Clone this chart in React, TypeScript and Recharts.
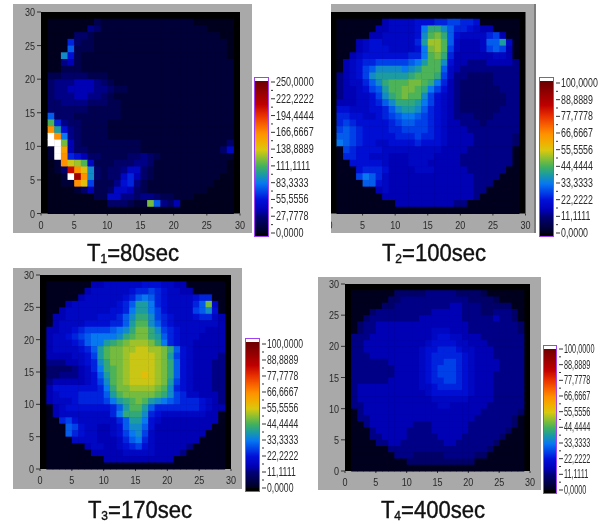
import React from "react";
import {
  Bar,
  BarChart,
  ReferenceArea,
  Scatter,
  ScatterChart,
  XAxis,
  YAxis,
} from "recharts";

// one string per row, top row (y 28-29) first, one char per cell (x 1-2 ... 28-29), grouped by 7
// char = base 36 level, 3% of full scale per step, z = over range (drawn white)
const t1Rows = [
  "0000000 2111111 1111111 1000000",
  "0000004 3111111 1111111 1110000",
  "0000332 1111111 1111111 1111100",
  "0008322 1111111 1111111 1111110",
  "000a222 1111111 1111111 1111110",
  "00c7211 1111111 1111111 1111110",
  "0045211 1111111 1111111 1111111",
  "0022211 1111111 1111111 1111111",
  "2233332 2211111 1111111 1111111",
  "3444555 4321111 1111111 1111111",
  "3445555 4432211 1111111 1111111",
  "3444554 4321111 1111111 1111111",
  "3344443 3322111 1111111 1111111",
  "3333332 2222111 1111111 1111111",
  "a333222 2222111 1111111 1111111",
  "f843322 2211111 1111111 1111111",
  "md74322 2211111 1111111 1111111",
  "zmb4322 2211111 1111111 1111111",
  "zzg5322 2222222 1111111 1111113",
  "1zl5332 2222222 1111111 1111136",
  "1zm8753 3222233 4321111 1111111",
  "01mihf6 2223334 4311111 1111110",
  "013smjc 3233466 3211111 1111110",
  "001zumc 3233685 3211111 1111100",
  "0011mj9 2224784 2111111 1111000",
  "0000135 2236653 2111111 1110000",
  "0000000 2266443 4432211 1000000",
  "0000000 0033321 1ga4350 0000000",
  "0000000 0000000 0000000 0000000",
];

const t2Rows = [
  "0000000 5666677 7889988 7000000",
  "0000005 566667b eeca887 6550000",
  "0000055 666667c fgea766 6689500",
  "0005677 666668d hhfa655 56aad60",
  "0005677 766667b ghf9655 569a950",
  "0056777 777788b fge8555 5556650",
  "0567889 9999abd ffc7554 4455554",
  "05679ac cccbcdf ffa6544 4444444",
  "45679cd ddddeff fe96443 3334444",
  "45668ac efffggf eb85433 3334444",
  "455679a dffggfe b975433 3333444",
  "4556679 cefgffc 9765433 3333344",
  "5556678 aceeedb 9765433 3333344",
  "7766677 8acddca 8765433 3333444",
  "8877667 89abba9 8765444 3334444",
  "8987777 789aa99 8765544 4344444",
  "9a98777 7889999 8765554 4444444",
  "aa98777 7788898 8765555 4444443",
  "ba98776 6777787 7765555 4444443",
  "0987777 6666666 6655554 4444440",
  "0887766 6555666 6555544 4444440",
  "0077777 6555666 5555544 4444440",
  "0007888 7555566 6555554 4444400",
  "0009ba8 6555555 5555555 4444000",
  "0000aa7 6555555 5555555 4440000",
  "0000005 6555555 5555555 4400000",
  "0000000 5555555 5555555 4000000",
  "0000000 0055555 5555440 0000000",
  "0000000 0000000 0000000 0000000",
];

const t3Rows = [
  "0000000 5566666 6777665 5000000",
  "0000005 6666667 8898766 5500000",
  "0000056 6666678 aba8766 6678800",
  "0005666 666678a ddb8766 668ag60",
  "0056666 666778b ddb9766 669ac70",
  "0556666 67778ac eec9876 6678865",
  "0566667 77788ad ffca876 6666665",
  "5566789 999abce ggec987 6666555",
  "566789a bbbbcef ggeda87 6665555",
  "566678a bbdefgh hhgeb87 6655555",
  "5666678 adfgghh iihhgea 7655555",
  "5555667 9dfgghi iiihgd9 7655554",
  "4445567 8cegghi iiihgea 7655544",
  "3333456 8befghi iiihgea 7655544",
  "3344456 7adfghi ijihgea 7655544",
  "4555556 79cfghi iiihgd9 7655544",
  "5777777 78beggh hhhgfc8 7655544",
  "5677788 88adfgg gggfec9 8665554",
  "5666788 889bdef gfdcba9 8887654",
  "0567777 7778adf fda8888 8887655",
  "0566666 6668bee ec87666 6666550",
  "0089766 66668ad db76555 5555550",
  "000a976 65567ac ca75555 5555500",
  "000a876 655679b c965555 5555000",
  "0000666 655568a b865555 5550000",
  "0000005 6655678 9765555 5400000",
  "0000000 5555566 6665555 4000000",
  "0000000 0055555 5555550 0000000",
  "0000000 0000000 0000000 0000000",
];

const t4Rows = [
  "0000000 3333344 4443333 2000000",
  "0000003 3444444 4444433 3320000",
  "0000033 4444444 4455444 3333300",
  "0003444 4444445 5555444 3344430",
  "0034444 4444555 5555444 4454430",
  "0344555 5555555 5555544 4444443",
  "0344555 5555556 6655544 4444443",
  "4445555 5555556 7766555 4444444",
  "4455555 5555567 7776655 5444444",
  "4455555 5555677 8887665 5544444",
  "4445555 5555678 8888765 5544444",
  "4444445 5555678 8998765 5554444",
  "4444444 5555678 9998765 5554444",
  "4444444 5555678 9998765 5544444",
  "4444445 5555678 8998765 5544444",
  "4555555 5555667 8888765 5544444",
  "4555555 5555567 7777765 5544444",
  "4555555 5555556 6666655 5544444",
  "4455555 5555555 6655555 5444444",
  "0455555 5555555 5555555 4444443",
  "0445555 5555555 5555554 4444430",
  "0045555 5554445 5555544 4444430",
  "0004555 5544445 5555544 4444300",
  "0004455 5544444 5555444 4443000",
  "0000445 5444444 4554444 4430000",
  "0000004 4444444 4444444 4300000",
  "0000000 4443333 3444443 3000000",
  "0000000 0033333 3333330 0000000",
  "0000000 0000000 0000000 0000000",
];

const axisTicks = [0, 5, 10, 15, 20, 25, 30];
const scale250Ticks = [0, 27.7778, 55.5556, 83.3333, 111.1111, 138.8889, 166.6667, 194.4444, 222.2222, 250];
const scale100Ticks = [0, 11.1111, 22.2222, 33.3333, 44.4444, 55.5556, 66.6667, 77.7778, 88.8889, 100];

// colour table of the intensity ramp: [percent of scale, colour]
const ramp: [number, string][] = [
  [0, "#00001e"],
  [3, "#000038"],
  [11, "#000078"],
  [15, "#0000b4"],
  [22, "#0010d8"],
  [27, "#0040e8"],
  [33, "#0878f0"],
  [39, "#1c9ca0"],
  [44, "#40b060"],
  [50, "#90c030"],
  [55, "#d8c810"],
  [60, "#f0b000"],
  [66, "#ff9000"],
  [72, "#f86000"],
  [78, "#e83000"],
  [85, "#c00000"],
  [100, "#700000"],
];

const channel = (hex: string, i: number) => parseInt(hex.slice(1 + i * 2, 3 + i * 2), 16);

const colourAt = (pct: number) => {
  if (pct > 100) return "#ffffff";
  for (let i = 1; i < ramp.length; i++) {
    if (pct <= ramp[i][0]) {
      const [p0, c0] = ramp[i - 1];
      const [p1, c1] = ramp[i];
      const f = (pct - p0) / (p1 - p0);
      const rgb = [0, 1, 2].map((k) => Math.round(channel(c0, k) + (channel(c1, k) - channel(c0, k)) * f));
      return `rgb(${rgb.join(",")})`;
    }
  }
  return ramp[ramp.length - 1][1];
};

const toCells = (rows: string[], max: number) =>
  rows.flatMap((row, r) =>
    row
      .replace(/ /g, "")
      .split("")
      .map((ch, c) => ({
        x: c + 1.5,
        y: 28.5 - r,
        value: (parseInt(ch, 36) * 3 * max) / 100,
      }))
  );

const FONT = "'Liberation Sans', sans-serif";

// the original labels are a narrow face, so squeeze them horizontally to the wanted advance per char
const NarrowText = ({ x, y, text, anchor, size, advance }: any) => (
  <text
    transform={`translate(${x} ${y}) scale(${advance / (size * 0.52)} 1)`}
    fontSize={size}
    fontFamily={FONT}
    fill="#2a2a2a"
    textAnchor={anchor}
  >
    {text}
  </text>
);

type PanelProps = {
  rows: string[];
  max: number;
  ticks: number[];
  title: string[];
  titleX: number;
  titleY: number;
  frame: { left: number; top: number; width: number; height: number };
  plot: { left: number; top: number; right: number; bottom: number };
  noLeftAxis?: boolean;
  bar: {
    left: number;
    top: number;
    width: number;
    height: number;
    tickTop: number;
    tickBottom: number;
    advance: number;
  };
};

const Heatmap = ({ rows, max, frame, plot, noLeftAxis }: PanelProps) => {
  const cellW = (plot.right - plot.left) / 30;
  const cellH = (plot.bottom - plot.top) / 30;
  const chartLeft = noLeftAxis ? plot.left - 28 : frame.left;
  const chartW = frame.left + frame.width - chartLeft;
  return (
    <div
      style={{
        position: "absolute",
        left: chartLeft,
        top: frame.top,
        clipPath: noLeftAxis ? `inset(0 0 0 ${frame.left - chartLeft}px)` : undefined,
      }}
    >
      <ScatterChart
        width={chartW}
        height={frame.height}
        margin={{
          left: plot.left - chartLeft - 20,
          right: frame.left + frame.width - plot.right,
          top: plot.top - frame.top,
          bottom: frame.top + frame.height - plot.bottom - 20,
        }}
      >
        <XAxis
          type="number"
          dataKey="x"
          domain={[0, 30]}
          ticks={axisTicks}
          interval={0}
          height={20}
          axisLine={false}
          tickSize={2}
          tickLine={{ stroke: "#333" }}
          tick={(p: any) => (
            <NarrowText x={p.x} y={p.y + 11} text={String(p.payload.value)} anchor="middle" size={11} advance={4.7} />
          )}
        />
        <YAxis
          type="number"
          dataKey="y"
          domain={[0, 30]}
          ticks={axisTicks}
          interval={0}
          width={20}
          axisLine={false}
          tickSize={4}
          tickLine={noLeftAxis ? false : { stroke: "#333" }}
          tick={
            noLeftAxis
              ? false
              : (p: any) => (
                  <NarrowText x={p.x} y={p.y + 4} text={String(p.payload.value)} anchor="end" size={11} advance={4.7} />
                )
          }
        />
        <ReferenceArea x1={0} x2={30} y1={0} y2={30} fill="#000" fillOpacity={1} stroke="none" />
        <Scatter
          data={toCells(rows, max)}
          isAnimationActive={false}
          shape={(p: any) => (
            <rect
              x={p.cx - cellW / 2}
              y={p.cy - cellH / 2}
              width={cellW + 0.5}
              height={cellH + 0.5}
              fill={colourAt((p.payload.value / max) * 100)}
            />
          )}
        />
      </ScatterChart>
    </div>
  );
};

const ColourBar = ({ max, ticks, bar }: PanelProps) => {
  const gradId = `ramp${max}${bar.left}`;
  const minor = ticks.slice(1).map((t, i) => (t + ticks[i]) / 2);
  return (
    <>
      <div
        style={{
          position: "absolute",
          left: bar.left,
          top: bar.top,
          width: bar.width,
          height: bar.height,
          boxSizing: "border-box",
          border: "1px solid #a040f0",
          background: "linear-gradient(#fff 0 3px, #700000 3px calc(100% - 4px), #000 calc(100% - 4px))",
        }}
      />
      <div style={{ position: "absolute", left: bar.left + 1, top: bar.tickTop - 8 }}>
        <BarChart
          width={bar.width - 2 + 46}
          height={bar.tickBottom - bar.tickTop + 16}
          data={[{ name: "scale", value: max }]}
          margin={{ left: 0, right: 0, top: 8, bottom: 8 }}
          barCategoryGap={0}
        >
          <defs>
            <linearGradient id={gradId} x1="0" y1="1" x2="0" y2="0">
              {ramp.map(([p, c]) => (
                <stop key={p} offset={`${p}%`} stopColor={c} />
              ))}
            </linearGradient>
          </defs>
          <XAxis dataKey="name" hide />
          <YAxis
            orientation="right"
            width={46}
            domain={[0, max]}
            ticks={[...ticks, ...minor].sort((a, b) => a - b)}
            interval={0}
            axisLine={false}
            tickLine={false}
            tick={(p: any) => {
              const major = ticks.includes(p.payload.value);
              return (
                <g>
                  <line x1={p.x - 5} x2={p.x - (major ? 1 : 3)} y1={p.y} y2={p.y} stroke="#333" />
                  {major && (
                    <NarrowText
                      x={p.x}
                      y={p.y + 4}
                      text={p.payload.value.toFixed(4).replace(".", ",")}
                      anchor="start"
                      size={12}
                      advance={bar.advance}
                    />
                  )}
                </g>
              );
            }}
          />
          <Bar dataKey="value" fill={`url(#${gradId})`} isAnimationActive={false} />
        </BarChart>
      </div>
    </>
  );
};

const Panel = (props: PanelProps) => {
  const { frame, title, titleX, titleY, noLeftAxis } = props;
  return (
    <>
      <div
        style={{
          position: "absolute",
          left: frame.left,
          top: frame.top,
          width: frame.width,
          height: frame.height,
          boxSizing: "border-box",
          background: "#a9a9a9",
          borderRight: noLeftAxis ? "2px solid #7c7c7c" : undefined,
        }}
      />
      <Heatmap {...props} />
      <ColourBar {...props} />
      <div
        style={{
          position: "absolute",
          left: titleX - 80,
          width: 160,
          top: titleY - 13,
          textAlign: "center",
          fontFamily: FONT,
          fontSize: 24,
          lineHeight: "26px",
          color: "#111",
          transform: "scaleX(0.92)",
          WebkitTextStroke: "0.4px #111",
        }}
      >
        {title[0]}
        <sub style={{ fontSize: 13, lineHeight: 0, verticalAlign: "-2px" }}>{title[1]}</sub>
        {title[2]}
      </div>
    </>
  );
};

const panels: PanelProps[] = [
  {
    rows: t1Rows,
    max: 250,
    ticks: scale250Ticks,
    title: ["T", "1", "=80sec"],
    titleX: 133,
    titleY: 253,
    frame: { left: 13, top: 4, width: 239, height: 229 },
    plot: { left: 41, top: 12, right: 240, bottom: 213.5 },
    bar: { left: 254, top: 77, width: 15, height: 160, tickTop: 82, tickBottom: 233, advance: 4.7 },
  },
  {
    rows: t2Rows,
    max: 100,
    ticks: scale100Ticks,
    title: ["T", "2", "=100sec"],
    titleX: 434,
    titleY: 253,
    frame: { left: 331, top: 4, width: 205, height: 229 },
    plot: { left: 330, top: 12, right: 525.5, bottom: 213.5 },
    noLeftAxis: true,
    bar: { left: 539, top: 77, width: 15, height: 160, tickTop: 83, tickBottom: 233, advance: 4.6 },
  },
  {
    rows: t3Rows,
    max: 100,
    ticks: scale100Ticks,
    title: ["T", "3", "=170sec"],
    titleX: 140,
    titleY: 510,
    frame: { left: 13, top: 268, width: 229, height: 221 },
    plot: { left: 40, top: 275, right: 231, bottom: 469 },
    bar: { left: 245, top: 338, width: 15, height: 154, tickTop: 344, tickBottom: 488, advance: 4.5 },
  },
  {
    rows: t4Rows,
    max: 100,
    ticks: scale100Ticks,
    title: ["T", "4", "=400sec"],
    titleX: 433,
    titleY: 510,
    frame: { left: 318, top: 277, width: 223, height: 213 },
    plot: { left: 345, top: 284, right: 530, bottom: 471 },
    bar: { left: 543, top: 345, width: 14, height: 149, tickTop: 349, tickBottom: 490, advance: 3.8 },
  },
];

export default function App() {
  return (
    <div
      style={{
        position: "absolute",
        left: 0,
        top: 0,
        width: 603,
        height: 524,
        background: "#fff",
        overflow: "hidden",
        filter: "blur(0.4px)",
      }}
    >
      {panels.map((p, i) => (
        <Panel key={i} {...p} />
      ))}
    </div>
  );
}
